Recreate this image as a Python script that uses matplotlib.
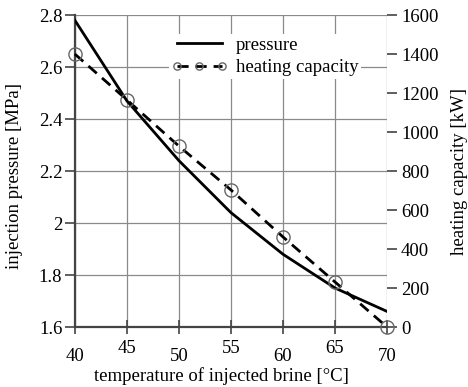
import matplotlib
matplotlib.use("Agg")
import matplotlib.pyplot as plt
from matplotlib.ticker import FormatStrFormatter, FuncFormatter

plt.rcParams['font.family'] = ['Liberation Serif', 'DejaVu Serif']

temperature = [40, 45, 50, 55, 60, 65, 70]
pressure = [2.78, 2.47, 2.24, 2.04, 1.88, 1.75, 1.66]
heating_capacity = [1400, 1165, 928, 703, 462, 231, 0]

major_x = [40, 50, 60, 70]
minor_x = [45, 55, 65]
left_ticks = [1.6, 1.8, 2.0, 2.2, 2.4, 2.6, 2.8]
right_ticks = [0, 200, 400, 600, 800, 1000, 1200, 1400, 1600]

fig = plt.figure(figsize=(4.68, 3.87), dpi=100)
ax = fig.add_axes([0.160, 0.155, 0.667, 0.806])
ax2 = ax.twinx()

fs = 13.5
grid_c = '#8a8a8a'
spine_c = '#444444'

ax.plot(temperature, pressure, color='black', lw=2.0, label='pressure', zorder=3)
ax2.plot(temperature, heating_capacity, color='black', lw=2.0, ls=(0, (4, 2.5)),
         marker='o', markersize=9.5, markerfacecolor='none', markeredgecolor='#666666',
         markeredgewidth=1.0, clip_on=False, label='heating capacity', zorder=3)

ax.set_xlim(40, 70)
ax.set_ylim(1.6, 2.8)
ax2.set_ylim(0, 1600)

ax.set_xticks(major_x)
ax.set_xticks(minor_x, minor=True)
ax.xaxis.set_major_formatter(FormatStrFormatter('%d'))
ax.xaxis.set_minor_formatter(FormatStrFormatter('%d'))
ax.set_yticks(left_ticks)
ax.yaxis.set_major_formatter(FuncFormatter(lambda v, p: '%g' % v))
ax2.set_yticks(right_ticks)

tl = 7
ax.tick_params(axis='x', which='major', direction='inout', length=9.5, width=1.2,
               color=spine_c, labelsize=fs, pad=10)
ax.tick_params(axis='x', which='minor', direction='inout', length=9.5, width=1.2,
               color=spine_c, labelsize=fs, pad=4.5)
ax.tick_params(axis='y', direction='out', length=tl, width=1.2, color=spine_c,
               labelsize=fs, pad=2)
ax2.tick_params(axis='y', direction='out', length=tl, width=1.2, color=spine_c,
                labelsize=fs, pad=3)

ax.grid(True, which='both', axis='x', color=grid_c, lw=0.9)
ax.grid(True, which='major', axis='y', color=grid_c, lw=0.9)
ax.set_axisbelow(True)

for a in (ax, ax2):
    for s in ('left', 'bottom'):
        a.spines[s].set_linewidth(1.6)
        a.spines[s].set_color(spine_c)
    for s in ('right', 'top'):
        a.spines[s].set_visible(False)
ax2.spines['left'].set_visible(False)
ax2.spines['bottom'].set_visible(False)

ax.set_xlabel('temperature of injected brine [°C]', fontsize=fs)
ax.xaxis.set_label_coords(0.468, -0.13)
ax.set_ylabel('injection pressure [MPa]', fontsize=fs)
ax.yaxis.set_label_coords(-0.167, 0.484)
ax2.set_ylabel('heating capacity [kW]', fontsize=fs, labelpad=9)

h1, l1 = ax.get_legend_handles_labels()
h2, l2 = ax2.get_legend_handles_labels()
leg = ax2.legend(h1 + h2, l1 + l2, loc='upper left', bbox_to_anchor=(0.30, 0.94),
                 fontsize=fs, frameon=True, fancybox=False, edgecolor='none',
                 facecolor='white', framealpha=1.0, numpoints=3, markerscale=0.55,
                 handlelength=3.0, handletextpad=0.45, labelspacing=0.3,
                 borderpad=0.15, borderaxespad=0)

fig.savefig('out.png', dpi=100)
